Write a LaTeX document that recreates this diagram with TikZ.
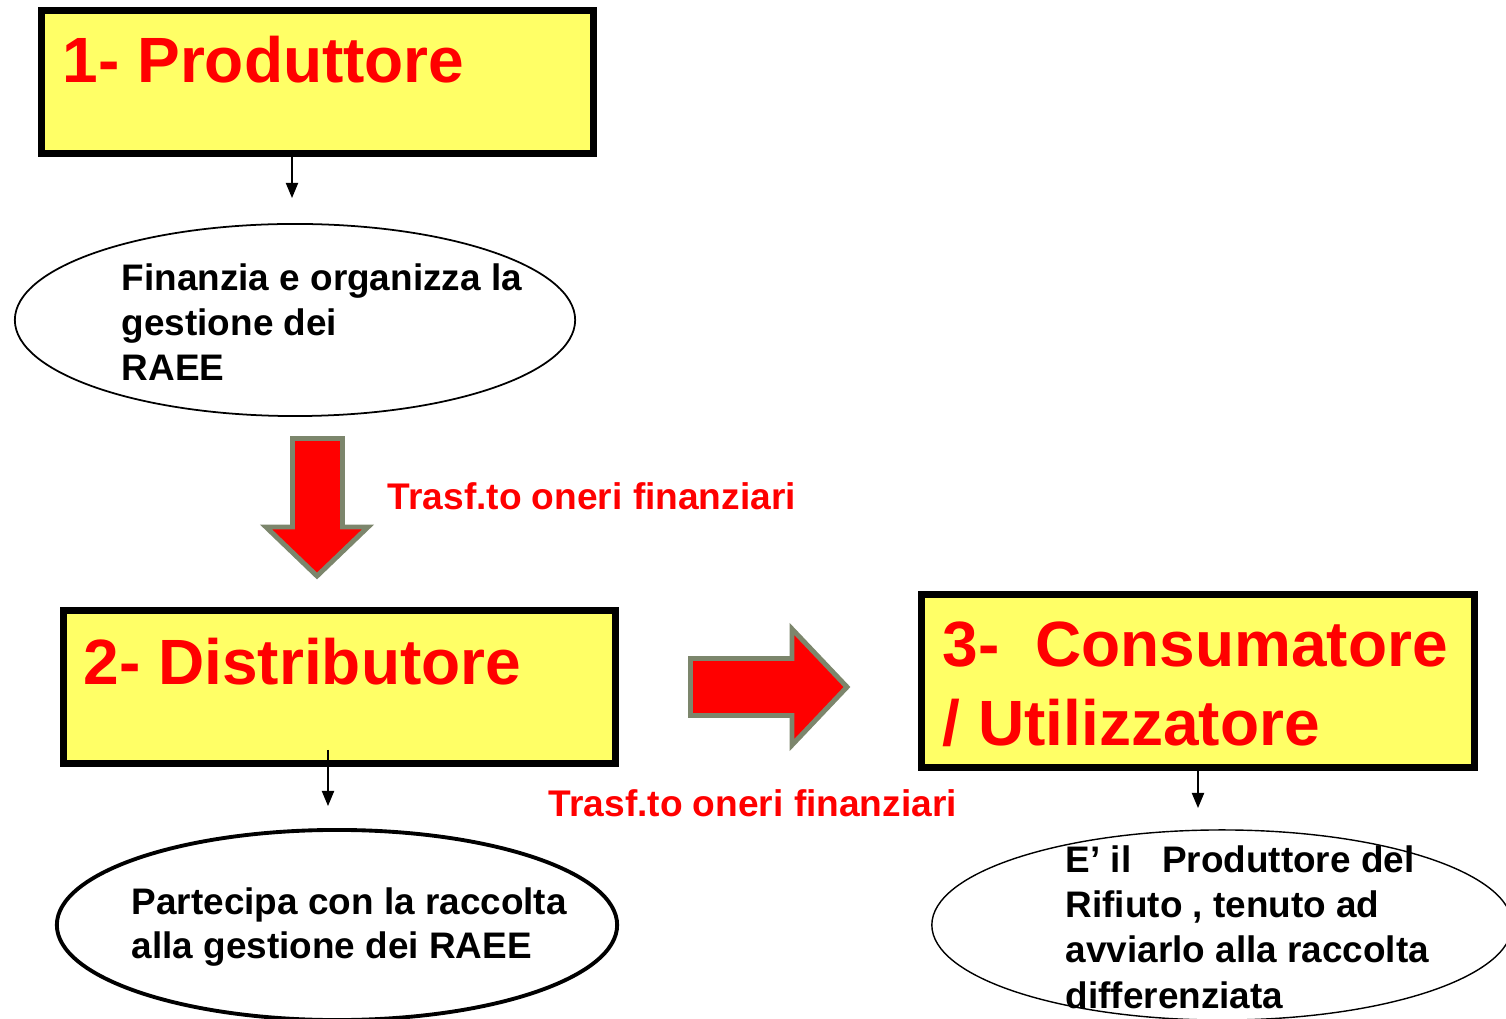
\documentclass[tikz,border=0pt]{standalone}
\usepackage{fontspec}
\setmainfont{Liberation Sans}
\usetikzlibrary{arrows.meta,shapes.geometric}
\definecolor{boxyellow}{RGB}{255,255,102}
\definecolor{arrowedge}{RGB}{124,134,108}
\tikzset{
  box/.style={draw=black,line width=2pt,fill=boxyellow,rectangle,inner sep=0pt},
  title/.style={anchor=base west,inner sep=0pt,text=red,font=\fontsize{18.2}{22.2}\selectfont\bfseries,align=left},
  body/.style={anchor=base west,inner sep=0pt,text=black,font=\fontsize{10.5}{12.8}\selectfont\bfseries,align=left},
  redlabel/.style={anchor=base west,inner sep=0pt,text=red,font=\fontsize{10.55}{12.8}\selectfont\bfseries},
  oval/.style={draw=black,ellipse,inner sep=0pt},
  arr/.style={draw=black,line width=0.35pt,-{Triangle[length=4.3pt,width=3.5pt]}},
  blockarrow/.style={fill=red,draw=arrowedge,line width=1.4pt,line join=miter}
}
\begin{document}
\begin{tikzpicture}[x=0.01cm,y=-0.01cm]
\useasboundingbox (0,0) rectangle (1506,1019);
% boxes
\node[box,minimum width=5.52cm,minimum height=1.43cm] (b1) at (317.5,82) {};
\node[box,minimum width=5.52cm,minimum height=1.53cm] (b2) at (339.5,687) {};
\node[box,minimum width=5.53cm,minimum height=1.73cm] (b3) at (1198,681) {};
\node[title] (t1) at (62,83) {1- Produttore};
\node[title] (t2) at (83,685) {2- Distributore};
\node[title] (t3) at (942,745) {3-\ \ Consumatore\\/ Utilizzatore};
% ellipses
\node[oval,line width=0.5pt,minimum width=5.6cm,minimum height=1.92cm] (e1) at (295,320) {};
\node[oval,line width=1.1pt,minimum width=5.6cm,minimum height=1.9cm] (e2) at (337,925) {};
\node[oval,line width=0.4pt,minimum width=5.8cm,minimum height=1.9cm] (e3) at (1222,925) {};
\node[body] (x1) at (121,381) {Finanzia e organizza la\\gestione dei\\RAEE};
\node[body,font=\fontsize{10.5}{12.5}\selectfont\bfseries] (x2) at (131,958) {Partecipa con la raccolta\\alla gestione dei RAEE};
\node[body] (x3) at (1065,1008) {E’ il\ \ \ Produttore del\\Rifiuto , tenuto ad\\avviarlo alla raccolta\\differenziata};
% red labels
\node[redlabel] (l1) at (387,510) {Trasf.to oneri finanziari};
\node[redlabel] (l2) at (548,817) {Trasf.to oneri finanziari};
% small connectors
\coordinate (p1) at (292,198);
\draw[arr] (b1.south -| p1) -- (p1);
\coordinate (s2) at (328,750);
\coordinate (p2) at (328,806);
\draw[arr] (s2) -- (p2);
\coordinate (p3) at (1198,808);
\draw[arr] (b3.south -| p3) -- (p3);
% block arrows
\draw[blockarrow] (292.5,438.5) -- (342.5,438.5) -- (342.5,527) -- (368,527) -- (317,576) -- (266,527) -- (292.5,527) -- cycle;
\draw[blockarrow] (690.5,658.5) -- (792,658.5) -- (792,629) -- (847,687) -- (792,745) -- (792,715.5) -- (690.5,715.5) -- cycle;
\end{tikzpicture}
\end{document}
